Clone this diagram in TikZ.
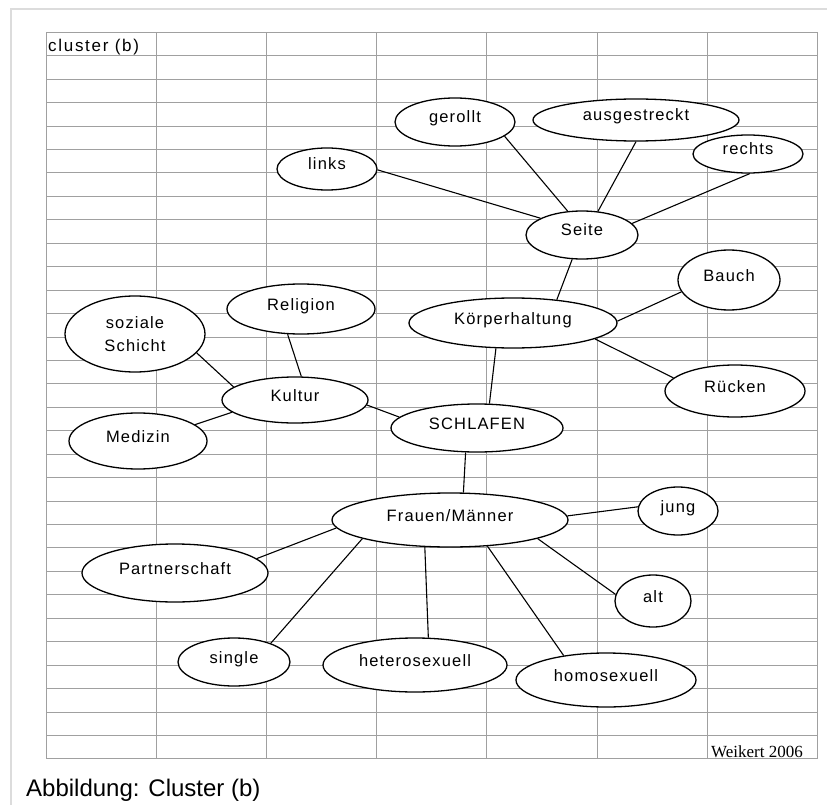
\documentclass[tikz,border=0pt]{standalone}
\usepackage{fontspec}
\setmainfont{Liberation Sans}
\newfontfamily\lblfont[LetterSpace=7]{Liberation Sans}
\newfontfamily\titlefont[LetterSpace=10]{Liberation Sans}
\newfontfamily\signfont{Liberation Serif}
\usetikzlibrary{shapes.geometric}
\definecolor{gridgray}{RGB}{160,160,160}
\definecolor{framegray}{RGB}{220,220,220}

\begin{document}
\begin{tikzpicture}[x=1pt,y=-1pt,
  gridline/.style={draw=gridgray, line width=1pt},
  bub/.style={ellipse, draw=black, line width=1.3pt, fill=white, inner sep=0pt,
    font=\lblfont\fontsize{16.5}{18}\selectfont, text height=9pt, text depth=7pt},
  conn/.style={draw=black, line width=1.1pt},
  plain/.style={inner sep=0pt, anchor=base west}]
\useasboundingbox (0,0) rectangle (827,805);
\fill[white] (0,0) rectangle (827,805);

% page frame
\draw[framegray, line width=1.5pt] (11,805) -- (11,9) -- (827,9);

% spreadsheet grid
\foreach \i in {0,...,7}
  \draw[gridline] ({46.5+110.1*\i},32.3) -- ({46.5+110.1*\i},759);
\foreach \k in {0,...,31}
  \draw[gridline] (46.5,{32.3+23.44*\k}) -- (817.2,{32.3+23.44*\k});

\node[plain, font=\titlefont\fontsize{17}{18}\selectfont] (title) at (48,52) {cluster (b)};
\node[plain, font=\signfont\fontsize{17}{18}\selectfont] (sign) at (711,757) {Weikert 2006};
\node[plain, font=\fontsize{24}{28}\selectfont] (caption) at (26,796) {Abbildung: Cluster (b)};

% ellipses
\node[bub, minimum width=100pt, minimum height=42pt] (links) at (327,169) {links};
\node[bub, minimum width=120pt, minimum height=48pt] (gerollt) at (455,122) {gerollt};
\node[bub, minimum width=206pt, minimum height=42pt] (ausg) at (636,120) {ausgestreckt};
\node[bub, minimum width=110pt, minimum height=38pt] (rechts) at (748,154) {rechts};
\node[bub, minimum width=112pt, minimum height=48pt] (seite) at (582,235) {Seite};
\node[bub, minimum width=102pt, minimum height=60pt] (bauch) at (729,280) {Bauch};
\node[bub, minimum width=208pt, minimum height=50pt] (koerper) at (513,323) {Körperhaltung};
\node[bub, minimum width=140pt, minimum height=52pt] (ruecken) at (735,391) {Rücken};
\node[bub, minimum width=172pt, minimum height=48pt] (schlafen) at (477,428) {SCHLAFEN};
\node[bub, minimum width=148pt, minimum height=50pt] (religion) at (301,309) {Religion};
\node[bub, minimum width=140pt, minimum height=76pt, align=center, text height=, text depth=,
      font=\lblfont\fontsize{16.5}{23}\selectfont] (soziale) at (135,334) {soziale\\Schicht};
\node[bub, minimum width=146pt, minimum height=46pt] (kultur) at (295,400) {Kultur};
\node[bub, minimum width=138pt, minimum height=56pt] (medizin) at (138,441) {Medizin};
\node[bub, minimum width=236pt, minimum height=54pt] (frauen) at (450,520) {Frauen/Männer};
\node[bub, minimum width=80pt, minimum height=48pt] (jung) at (678,511) {jung};
\node[bub, minimum width=76pt, minimum height=52pt] (alt) at (653,601) {alt};
\node[bub, minimum width=186pt, minimum height=58pt] (partner) at (175,573) {Partnerschaft};
\node[bub, minimum width=112pt, minimum height=48pt] (single) at (234,662) {single};
\node[bub, minimum width=184pt, minimum height=54pt] (hetero) at (415,665) {heterosexuell};
\node[bub, minimum width=180pt, minimum height=54pt] (homo) at (606,680) {homosexuell};

% connectors
\draw[conn] (links.359) -- (seite.158);
\draw[conn] (gerollt.344) -- (seite.121);
\draw[conn] (ausg.270) -- (seite.56);
\draw[conn] (rechts.275) -- (seite.13);
\draw[conn] (seite.248) -- (koerper.28);
\draw[conn] (bauch.194) -- (koerper.1);
\draw[conn] (ruecken.168) -- (koerper.349);
\draw[conn] (koerper.236) -- (schlafen.63);
\draw[conn] (kultur.356) -- (schlafen.172);
\draw[conn] (soziale.343) -- (kultur.168);
\draw[conn] (religion.242) -- (kultur.75);
\draw[conn] (medizin.16) -- (kultur.191);
\draw[conn] (schlafen.245) -- (frauen.64);
\draw[conn] (frauen.184) -- (partner.10);
\draw[conn] (frauen.192) -- (single.27);
\draw[conn] (frauen.227) -- (hetero.64);
\draw[conn] (frauen.2) -- (jung.174);
\draw[conn] (frauen.348) -- (alt.170);
\draw[conn] (frauen.325) -- (homo.150);
\end{tikzpicture}
\end{document}
